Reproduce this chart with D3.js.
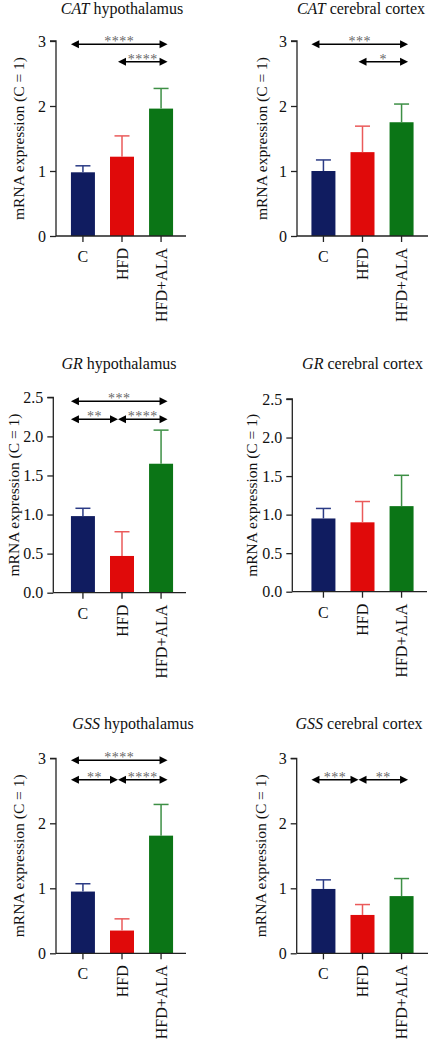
<!DOCTYPE html>
<html>
<head>
<meta charset="utf-8">
<script src="https://cdn.jsdelivr.net/npm/d3@7"></script>
<style>
  html, body { margin: 0; padding: 0; background: #fff; }
  svg { display: block; }
  svg text { font-family: "Liberation Serif", "Times New Roman", serif !important; }
</style>
</head>
<body>
<svg id="chart" width="430" height="1040"></svg>
<script>
// ---------- data ----------
const groups = ["C", "HFD", "HFD+ALA"];

const titlesGene   = ["CAT", "CAT", "GR", "GR", "GSS", "GSS"];
const titlesTissue = ["hypothalamus", "cerebral cortex", "hypothalamus", "cerebral cortex", "hypothalamus", "cerebral cortex"];

const catHypoMean   = [0.98, 1.22, 1.96];
const catHypoSD     = [0.10, 0.32, 0.31];
const catCortexMean = [1.00, 1.29, 1.75];
const catCortexSD   = [0.17, 0.40, 0.28];
const grHypoMean    = [0.98, 0.47, 1.65];
const grHypoSD      = [0.10, 0.31, 0.43];
const grCortexMean  = [0.95, 0.90, 1.11];
const grCortexSD    = [0.13, 0.27, 0.40];
const gssHypoMean   = [0.95, 0.35, 1.81];
const gssHypoSD     = [0.12, 0.18, 0.48];
const gssCortexMean = [0.99, 0.59, 0.88];
const gssCortexSD   = [0.14, 0.16, 0.27];

const ticksInt  = [0, 1, 2, 3];
const ticksHalf = [0, 0.5, 1.0, 1.5, 2.0, 2.5];

// significance comparisons: [fromGroup, toGroup, y (data units), label]
const catHypoSig   = [["C", "HFD+ALA", 2.95, "****"], ["HFD", "HFD+ALA", 2.68, "****"]];
const catCortexSig = [["C", "HFD+ALA", 2.95, "***"], ["HFD", "HFD+ALA", 2.68, "*"]];
const grHypoSig    = [["C", "HFD+ALA", 2.45, "***"], ["C", "HFD", 2.22, "**"], ["HFD", "HFD+ALA", 2.22, "****"]];
const grCortexSig  = [];
const gssHypoSig   = [["C", "HFD+ALA", 2.97, "****"], ["C", "HFD", 2.67, "**"], ["HFD", "HFD+ALA", 2.67, "****"]];
const gssCortexSig = [["C", "HFD", 2.67, "***"], ["HFD", "HFD+ALA", 2.67, "**"]];

const yLabel = "mRNA expression (C = 1)";

// ---------- style / layout ----------
const FONT = "'Liberation Serif', 'Times New Roman', serif";
const barColors = ["#101c60", "#e00a0a", "#0b7516"];
const errColors = ["#2b3b85", "#ea5a5a", "#3d8f45"];
const tipOffset = { "C": -12, "HFD": -4, "HFD+ALA": 6.5 };

const panels = [
  { mean: catHypoMean,   sd: catHypoSD,   sig: catHypoSig,   max: 3,   ticks: ticksInt,  fmt: d3.format("d"),
    ax: 56,    y0: 236,   yTop: 41,    xEnd: 186, band: [63.5, 180.5], tx: 122,   ty: 14,  lx: 18 },
  { mean: catCortexMean, sd: catCortexSD, sig: catCortexSig, max: 3,   ticks: ticksInt,  fmt: d3.format("d"),
    ax: 297,   y0: 236,   yTop: 41,    xEnd: 428, band: [304, 421],    tx: 361,   ty: 14,  lx: 261.5 },
  { mean: grHypoMean,    sd: grHypoSD,    sig: grHypoSig,    max: 2.5, ticks: ticksHalf, fmt: d3.format(".1f"),
    ax: 53.3,  y0: 592.7, yTop: 397.3, xEnd: 186, band: [63.5, 180.5], tx: 119,   ty: 369, lx: 13.5 },
  { mean: grCortexMean,  sd: grCortexSD,  sig: grCortexSig,  max: 2.5, ticks: ticksHalf, fmt: d3.format(".1f"),
    ax: 292.3, y0: 591.7, yTop: 399,   xEnd: 427, band: [304, 421],    tx: 362.5, ty: 369, lx: 251.5 },
  { mean: gssHypoMean,   sd: gssHypoSD,   sig: gssHypoSig,   max: 3,   ticks: ticksInt,  fmt: d3.format("d"),
    ax: 56,    y0: 953.3, yTop: 758.3, xEnd: 186, band: [63.5, 180.5], tx: 133,   ty: 729, lx: 18 },
  { mean: gssCortexMean, sd: gssCortexSD, sig: gssCortexSig, max: 3,   ticks: ticksInt,  fmt: d3.format("d"),
    ax: 296.7, y0: 953.3, yTop: 758.3, xEnd: 428, band: [304, 421],    tx: 359,   ty: 729, lx: 260 }
];

const svg = d3.select("#chart");

panels.forEach((p, i) => {
  const g = svg.append("g");
  const x = d3.scaleBand().domain(groups).range(p.band).paddingInner(0.385).paddingOuter(0.19);
  const y = d3.scaleLinear().domain([0, p.max]).range([p.y0, p.yTop]);
  const bw = 24;
  const cx = k => x(k) + x.bandwidth() / 2;

  // title
  const t = g.append("text").attr("x", p.tx).attr("y", p.ty)
    .attr("text-anchor", "middle").attr("font-size", 16).attr("fill", "#111").style("font-family", FONT);
  t.append("tspan").attr("font-style", "italic").text(titlesGene[i]);
  t.append("tspan").text(" " + titlesTissue[i]);

  // bars
  g.selectAll("rect.bar").data(groups).join("rect")
    .attr("class", "bar")
    .attr("x", d => cx(d) - bw / 2)
    .attr("width", bw)
    .attr("y", (d, j) => y(p.mean[j]))
    .attr("height", (d, j) => y(0) - y(p.mean[j]))
    .attr("fill", (d, j) => barColors[j]);

  // error bars (upper)
  groups.forEach((d, j) => {
    const top = y(p.mean[j] + p.sd[j]);
    g.append("line").attr("x1", cx(d)).attr("x2", cx(d))
      .attr("y1", y(p.mean[j])).attr("y2", top)
      .attr("stroke", errColors[j]).attr("stroke-width", 1.5);
    g.append("line").attr("x1", cx(d) - 7.5).attr("x2", cx(d) + 7.5)
      .attr("y1", top).attr("y2", top)
      .attr("stroke", errColors[j]).attr("stroke-width", 1.5);
  });

  // y axis
  const yAxis = d3.axisLeft(y).tickValues(p.ticks).tickFormat(p.fmt).tickSize(6).tickPadding(4);
  const ya = g.append("g").attr("transform", `translate(${p.ax},0)`).call(yAxis);
  ya.attr("font-family", null);
  ya.select(".domain").attr("d", `M-6,${p.yTop}H0V${p.y0}`).attr("stroke", "#222").attr("stroke-width", 1.3);
  ya.selectAll(".tick line").attr("stroke", "#222").attr("stroke-width", 1.3);
  ya.selectAll(".tick text").attr("font-size", 16).attr("fill", "#111").style("font-family", FONT);

  // x axis
  const xAxis = d3.axisBottom(x).tickSize(6).tickFormat("");
  const xa = g.append("g").attr("transform", `translate(0,${p.y0})`).call(xAxis);
  xa.select(".domain").attr("d", `M${p.ax},0H${p.xEnd}`).attr("stroke", "#222").attr("stroke-width", 1.3);
  xa.selectAll(".tick line").attr("stroke", "#222").attr("stroke-width", 1.3);

  // x labels
  groups.forEach((d, j) => {
    if (j === 0) {
      g.append("text").attr("x", cx(d)).attr("y", p.y0 + 26)
        .attr("text-anchor", "middle").attr("font-size", 16).attr("fill", "#111")
        .style("font-family", FONT).text(d);
    } else {
      g.append("text")
        .attr("transform", `translate(${cx(d) + 5.5},${p.y0 + 12}) rotate(-90)`)
        .attr("text-anchor", "end").attr("font-size", 16).attr("fill", "#111")
        .style("font-family", FONT).text(d);
    }
  });

  // y label
  g.append("text")
    .attr("transform", `translate(${p.lx},${(p.y0 + p.yTop) / 2}) rotate(-90)`)
    .attr("text-anchor", "middle").attr("dominant-baseline", "central")
    .attr("font-size", 15.5).attr("fill", "#111").style("font-family", FONT).text(yLabel);

  // significance arrows
  p.sig.forEach(s => {
    const x1 = cx(s[0]) + tipOffset[s[0]];
    const x2 = cx(s[1]) + tipOffset[s[1]];
    const yy = y(s[2]);
    const ah = 8, hw = 4;
    g.append("line").attr("x1", x1 + ah - 1).attr("x2", x2 - ah + 1)
      .attr("y1", yy).attr("y2", yy).attr("stroke", "#000").attr("stroke-width", 1.5);
    g.append("path").attr("d", `M${x1},${yy}L${x1 + ah},${yy - hw}L${x1 + ah},${yy + hw}Z`).attr("fill", "#000");
    g.append("path").attr("d", `M${x2},${yy}L${x2 - ah},${yy - hw}L${x2 - ah},${yy + hw}Z`).attr("fill", "#000");
    g.append("text").attr("x", (x1 + x2) / 2).attr("y", yy + 2)
      .attr("text-anchor", "middle").attr("font-size", 14).attr("letter-spacing", 0.5)
      .attr("fill", "#666").style("font-family", FONT).text(s[3]);
  });
});
</script>
</body>
</html>
